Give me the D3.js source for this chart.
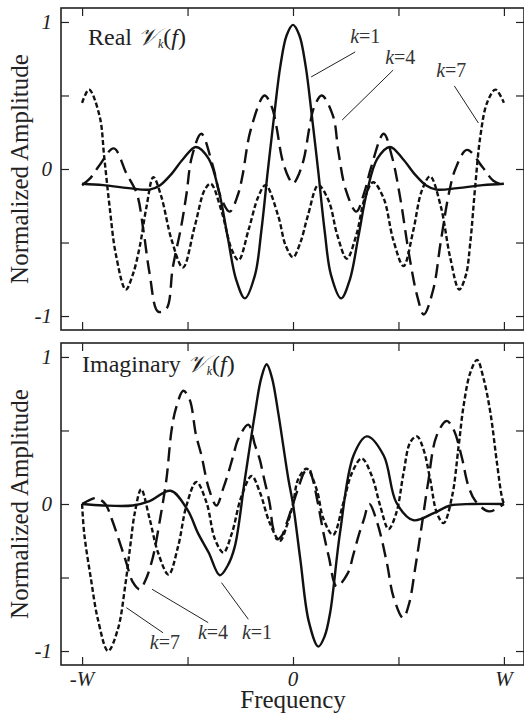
<!DOCTYPE html>
<html>
<head>
<meta charset="utf-8">
<script src="https://cdn.jsdelivr.net/npm/d3@7"></script>
<style>
  body { margin: 0; background: #fff; }
  svg { display: block; }
</style>
</head>
<body>
<svg id="chart" width="524" height="715"></svg>
<script>
// frequency in units of W, amplitude normalized; pairs [f, value]
var realK1 = [[-1,-0.10],[-0.9,-0.11],[-0.78,-0.13],[-0.68,-0.14],[-0.63,-0.11],[-0.58,-0.04],[-0.52,0.07],[-0.46,0.15],
  [-0.40,0.07],[-0.35,-0.16],[-0.31,-0.46],[-0.27,-0.75],[-0.228,-0.88],[-0.18,-0.72],[-0.15,-0.42],[-0.12,-0.02],
  [-0.088,0.38],[-0.06,0.70],[-0.03,0.91],[0,0.98],[0.03,0.91],[0.06,0.70],[0.088,0.38],[0.12,-0.02],[0.15,-0.42],
  [0.18,-0.72],[0.228,-0.88],[0.27,-0.75],[0.31,-0.46],[0.35,-0.16],[0.40,0.07],[0.46,0.15],[0.52,0.07],[0.58,-0.04],
  [0.63,-0.11],[0.68,-0.14],[0.78,-0.13],[0.9,-0.11],[1,-0.10]];

var realK4 = [[-1,-0.11],[-0.96,-0.06],[-0.92,0.02],[-0.85,0.14],[-0.79,-0.03],[-0.74,-0.17],[-0.71,-0.41],[-0.68,-0.71],
  [-0.64,-0.97],[-0.60,-0.95],[-0.57,-0.67],[-0.53,-0.39],[-0.505,-0.17],[-0.48,0.08],[-0.435,0.24],[-0.38,0.02],
  [-0.34,-0.20],[-0.30,-0.29],[-0.26,-0.17],[-0.24,-0.05],[-0.20,0.27],[-0.135,0.50],[-0.10,0.42],[-0.08,0.30],
  [-0.05,0.06],[-0.02,-0.06],[0,-0.10],[0.02,-0.06],[0.05,0.06],[0.08,0.30],[0.10,0.42],[0.136,0.50],[0.19,0.36],
  [0.215,0.12],[0.25,-0.14],[0.30,-0.29],[0.34,-0.15],[0.37,0.01],[0.43,0.24],[0.47,0.08],[0.51,-0.21],[0.55,-0.58],
  [0.59,-0.87],[0.62,-0.99],[0.665,-0.82],[0.70,-0.50],[0.74,-0.16],[0.77,0.0],[0.825,0.13],[0.9,0.01],[0.95,-0.08],[1,-0.11]];

var realK7 = [[-1,0.45],[-0.967,0.54],[-0.917,0.36],[-0.895,0.08],[-0.87,-0.25],[-0.84,-0.58],[-0.793,-0.82],[-0.76,-0.72],
  [-0.727,-0.53],[-0.695,-0.26],[-0.662,-0.055],[-0.624,-0.19],[-0.576,-0.48],[-0.522,-0.67],[-0.466,-0.39],[-0.418,-0.14],
  [-0.39,-0.10],[-0.34,-0.28],[-0.29,-0.55],[-0.258,-0.62],[-0.21,-0.41],[-0.165,-0.19],[-0.13,-0.11],[-0.07,-0.32],
  [-0.035,-0.52],[0,-0.60],[0.035,-0.50],[0.07,-0.32],[0.12,-0.11],[0.17,-0.22],[0.21,-0.45],[0.255,-0.61],[0.30,-0.45],
  [0.34,-0.20],[0.38,-0.09],[0.43,-0.20],[0.475,-0.48],[0.524,-0.66],[0.57,-0.42],[0.61,-0.15],[0.65,-0.05],[0.70,-0.25],
  [0.745,-0.60],[0.788,-0.82],[0.82,-0.72],[0.84,-0.51],[0.865,-0.10],[0.888,0.22],[0.92,0.45],[0.96,0.54],[1,0.45]];

var imagK1 = [[-1,0],[-0.9,-0.01],[-0.76,-0.01],[-0.68,0.02],[-0.58,0.09],[-0.50,-0.04],[-0.45,-0.20],[-0.40,-0.33],
  [-0.347,-0.485],[-0.31,-0.42],[-0.276,-0.29],[-0.228,0.17],[-0.18,0.62],[-0.15,0.86],[-0.125,0.95],[-0.10,0.86],
  [-0.07,0.62],[-0.022,0.17],[0,0],[0.035,-0.38],[0.075,-0.80],[0.12,-0.97],[0.15,-0.90],[0.176,-0.74],[0.223,-0.195],
  [0.287,0.33],[0.35,0.46],[0.43,0.33],[0.49,0.01],[0.57,-0.11],[0.67,-0.06],[0.745,-0.01],[0.85,0],[1,0]];

var imagK4 = [[-1,0],[-0.96,0.03],[-0.93,0.04],[-0.89,0.0],[-0.86,-0.10],[-0.815,-0.29],[-0.79,-0.40],[-0.76,-0.53],
  [-0.727,-0.58],[-0.70,-0.52],[-0.664,-0.36],[-0.63,-0.10],[-0.60,0.17],[-0.576,0.50],[-0.555,0.65],[-0.52,0.77],
  [-0.49,0.71],[-0.46,0.47],[-0.434,0.33],[-0.40,0.11],[-0.363,-0.01],[-0.33,0.11],[-0.307,0.21],[-0.283,0.33],
  [-0.26,0.44],[-0.212,0.54],[-0.18,0.40],[-0.157,0.30],[-0.14,0.19],[-0.11,0.0],[-0.095,-0.16],[-0.075,-0.24],
  [-0.055,-0.22],[-0.03,-0.13],[0,0],[0.03,0.13],[0.055,0.22],[0.075,0.24],[0.095,0.16],[0.12,-0.01],[0.145,-0.20],
  [0.17,-0.36],[0.207,-0.56],[0.26,-0.47],[0.285,-0.35],[0.31,-0.22],[0.335,-0.11],[0.362,0.0],[0.40,-0.13],
  [0.445,-0.40],[0.476,-0.63],[0.522,-0.775],[0.55,-0.68],[0.58,-0.43],[0.61,-0.15],[0.64,0.14],[0.68,0.46],
  [0.728,0.565],[0.76,0.51],[0.80,0.32],[0.83,0.13],[0.865,0.02],[0.93,-0.05],[1,0]];

var imagK7 = [[-1,0],[-0.99,-0.20],[-0.958,-0.51],[-0.925,-0.785],[-0.877,-1.0],[-0.83,-0.85],[-0.796,-0.56],
  [-0.772,-0.29],[-0.75,-0.06],[-0.72,0.10],[-0.68,-0.10],[-0.64,-0.33],[-0.59,-0.48],[-0.545,-0.29],[-0.505,-0.01],
  [-0.458,0.15],[-0.41,0.01],[-0.37,-0.24],[-0.33,-0.33],[-0.29,-0.20],[-0.245,0.05],[-0.196,0.19],[-0.157,0.08],
  [-0.11,-0.13],[-0.062,-0.25],[-0.03,-0.15],[0,0],[0.025,0.17],[0.065,0.24],[0.112,0.10],[0.144,-0.10],[0.19,-0.21],
  [0.239,0.01],[0.279,0.21],[0.326,0.31],[0.374,0.19],[0.413,-0.01],[0.453,-0.17],[0.49,-0.06],[0.524,0.21],
  [0.556,0.42],[0.588,0.46],[0.619,0.37],[0.65,0.17],[0.682,-0.06],[0.714,-0.13],[0.754,0.05],[0.785,0.39],
  [0.809,0.67],[0.84,0.89],[0.873,0.98],[0.904,0.85],[0.936,0.62],[0.967,0.28],[0.99,0.05],[1,0]];

var seriesNames = ["k=1", "k=4", "k=7"];
var xTickValues = [-1, -0.5, 0, 0.5, 1];
var xTickLabels = ["-W", "", "0", "", "W"];
var yTickValues = [-1, -0.5, 0, 0.5, 1];
var yTickLabels = ["-1", "", "0", "", "1"];
var panelTitles = ["Real", "Imaginary"];

// annotation anchors in data units: [labelF, labelV, lineF1, lineV1, lineF2, lineV2]
var realNotes = [[0.271,0.857,0.295,0.796,0.086,0.626],[0.437,0.714,0.475,0.673,0.233,0.333],[0.679,0.626,0.765,0.565,0.879,0.313]];
var imagNotes = [[-0.242,-0.918,-0.212,-0.784,-0.339,-0.535],[-0.451,-0.918,-0.402,-0.807,-0.668,-0.58],[-0.679,-0.986,-0.616,-0.876,-0.79,-0.705]];

var dashes = [null, "14,7", "5,2.6"];
var serif = "'Liberation Serif', 'DejaVu Serif', serif";

var svg = d3.select("#chart").attr("font-family", serif);
var x = d3.scaleLinear().domain([-1.1, 1.1]).range([61, 525]);
var left = 61, right = 524;

var panels = [
  { top: 8, bottom: 330, title: panelTitles[0], series: [realK1, realK4, realK7], notes: realNotes },
  { top: 343, bottom: 665, title: panelTitles[1], series: [imagK1, imagK4, imagK7], notes: imagNotes }
];

panels.forEach(function (p, pi) {
  var y = d3.scaleLinear().domain([-1.095, 1.095]).range([p.bottom, p.top]);
  var g = svg.append("g");

  var line = d3.line()
    .x(function (d) { return x(d[0]); })
    .y(function (d) { return y(d[1]); })
    .curve(d3.curveCatmullRom.alpha(0.5));

  p.series.forEach(function (s, i) {
    g.append("path")
      .datum(s)
      .attr("d", line)
      .attr("fill", "none")
      .attr("stroke", "#111")
      .attr("stroke-width", i === 0 ? 2.4 : 2.4)
      .attr("stroke-dasharray", dashes[i]);
  });

  // ticks pointing inward on all four sides
  var axB = d3.axisBottom(x).tickValues(xTickValues).tickSize(-8).tickFormat("");
  var axT = d3.axisTop(x).tickValues(xTickValues).tickSize(-8).tickFormat("");
  var axL = d3.axisLeft(y).tickValues(yTickValues).tickSize(-8).tickFormat("");
  var axR = d3.axisRight(y).tickValues(yTickValues).tickSize(-8).tickFormat("");
  [[axB, "translate(0," + p.bottom + ")"], [axT, "translate(0," + p.top + ")"],
   [axL, "translate(" + left + ",0)"], [axR, "translate(" + right + ",0)"]].forEach(function (a) {
    var ag = g.append("g").attr("transform", a[1]).call(a[0]);
    ag.select(".domain").remove();
    ag.selectAll("line").attr("stroke", "#222").attr("stroke-width", 1.2);
  });

  g.append("rect")
    .attr("x", left).attr("y", p.top)
    .attr("width", right - left).attr("height", p.bottom - p.top)
    .attr("fill", "none").attr("stroke", "#222").attr("stroke-width", 1.6);

  // y tick labels
  yTickValues.forEach(function (v, i) {
    if (!yTickLabels[i]) return;
    g.append("text")
      .attr("x", 52).attr("y", y(v)).attr("dy", "0.34em")
      .attr("text-anchor", "end")
      .attr("font-size", 21).attr("font-style", "italic").attr("fill", "#222")
      .text(yTickLabels[i]);
  });

  // y axis title
  g.append("text")
    .attr("transform", "translate(28," + (p.top + p.bottom) / 2 + ") rotate(-90)")
    .attr("text-anchor", "middle")
    .attr("font-size", 25).attr("fill", "#222")
    .text("Normalized Amplitude");

  // panel title
  var t = g.append("text")
    .attr("x", pi === 0 ? 88 : 82).attr("y", p.top + (pi === 0 ? 37 : 29))
    .attr("font-size", 24).attr("fill", "#222");
  t.append("tspan").text(p.title + " ");
  t.append("tspan").attr("font-style", "italic").text("\uD835\uDCB1");
  t.append("tspan").attr("font-size", 12).attr("font-style", "italic").attr("dy", 3).text("k");
  t.append("tspan").attr("dy", -3).text("(");
  t.append("tspan").attr("font-style", "italic").text("f");
  t.append("tspan").text(")");

  // series annotations
  p.notes.forEach(function (n, i) {
    g.append("line")
      .attr("x1", x(n[2])).attr("y1", y(n[3]))
      .attr("x2", x(n[4])).attr("y2", y(n[5]))
      .attr("stroke", "#222").attr("stroke-width", 1);
    var lt = g.append("text")
      .attr("x", x(n[0])).attr("y", y(n[1]))
      .attr("font-size", 20).attr("fill", "#333");
    lt.append("tspan").attr("font-style", "italic").text("k");
    lt.append("tspan").text(seriesNames[i].slice(1));
  });

  if (pi === 1) {
    xTickValues.forEach(function (v, i) {
      if (!xTickLabels[i]) return;
      g.append("text")
        .attr("x", x(v)).attr("y", 686)
        .attr("text-anchor", "middle")
        .attr("font-size", 21).attr("font-style", "italic").attr("fill", "#222")
        .text(xTickLabels[i]);
    });
    g.append("text")
      .attr("x", x(0)).attr("y", 708)
      .attr("text-anchor", "middle")
      .attr("font-size", 25).attr("fill", "#222")
      .text("Frequency");
  }
});
</script>
</body>
</html>
